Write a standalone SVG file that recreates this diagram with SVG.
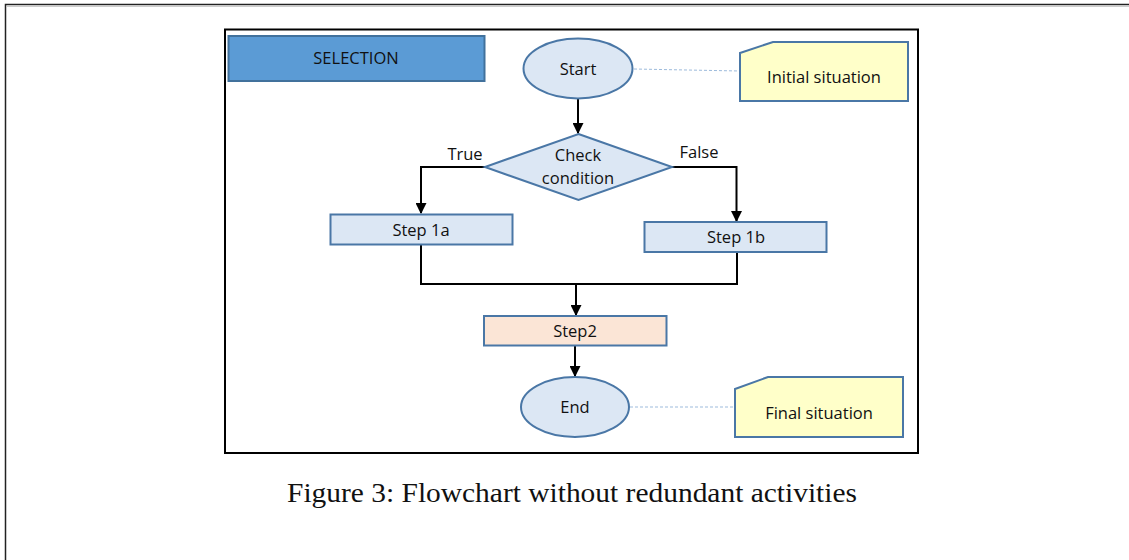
<svg xmlns="http://www.w3.org/2000/svg" width="1129" height="560" viewBox="0 0 1129 560">
  <style>
    .lbl { font-family: "Open Sans", "Liberation Sans", sans-serif; font-size: 16.5px; fill: #111; text-anchor: middle; }
    .node { fill: #dce7f4; stroke: #4a77a6; stroke-width: 2; }
    .note { fill: #ffffc9; stroke: #4a77a6; stroke-width: 2; }
    .flow { fill: none; stroke: #000; stroke-width: 2; }
    .link { fill: none; stroke: #9dbbdc; stroke-width: 1; stroke-dasharray: 3 2; }
    .caption { font-family: "Liberation Serif", serif; font-size: 27px; fill: #111; text-anchor: middle; }
  </style>
  <defs>
    <marker id="arrow" viewBox="0 0 10 10" refX="9" refY="5" markerWidth="5.5" markerHeight="5.5" orient="auto" markerUnits="strokeWidth">
      <path d="M0,0 L10,5 L0,10 z" fill="#000"/>
    </marker>
  </defs>

  <rect width="1129" height="560" fill="#fff"/>
  <!-- page frame -->
  <path d="M5.5,560 V4.5 H1129" fill="none" stroke="#222" stroke-width="1.5"/>
  <path d="M7,6.5 H1129" fill="none" stroke="#ccc" stroke-width="1"/>

  <!-- figure frame -->
  <rect x="225" y="29.5" width="693" height="423.5" fill="#fff" stroke="#000" stroke-width="2"/>

  <g id="title">
    <rect x="228.5" y="36" width="256" height="45" fill="#5b9bd5" stroke="#41719c" stroke-width="2"/>
    <text class="lbl" x="356" y="64">SELECTION</text>
  </g>

  <g id="connectors">
    <path class="link" d="M634,69 L740,71"/>
    <path class="link" d="M630,407 L735,407"/>
    <path class="flow" d="M578,98 V133" marker-end="url(#arrow)"/>
    <path class="flow" d="M485,167 H421 V213" marker-end="url(#arrow)"/>
    <path class="flow" d="M672,167 H736.5 V221" marker-end="url(#arrow)"/>
    <path class="flow" d="M421,245 V284 H737 V252"/>
    <path class="flow" d="M576,284 V315" stroke-width="3" marker-end="url(#arrow)"/>
    <path class="flow" d="M575,346 V376" marker-end="url(#arrow)"/>
    <text class="lbl" x="465" y="160">True</text>
    <text class="lbl" x="699" y="158">False</text>
  </g>

  <g id="start">
    <ellipse class="node" cx="578" cy="68.5" rx="54.5" ry="30"/>
    <text class="lbl" x="578" y="75">Start</text>
  </g>

  <g id="initial-situation">
    <path class="note" d="M740,53 L773,42 H908 V101 H740 Z"/>
    <text class="lbl" x="824" y="83">Initial situation</text>
  </g>

  <g id="check">
    <path class="node" d="M578.5,134 L672,167 L578.5,200 L485,167 Z"/>
    <text class="lbl" x="578" y="161">Check</text>
    <text class="lbl" x="578" y="184">condition</text>
  </g>

  <g id="step1a">
    <rect class="node" x="330.5" y="214.5" width="182" height="30"/>
    <text class="lbl" x="421" y="236">Step 1a</text>
  </g>

  <g id="step1b">
    <rect class="node" x="644.5" y="222" width="182" height="30"/>
    <text class="lbl" x="736" y="243">Step 1b</text>
  </g>

  <g id="step2">
    <rect x="484" y="316" width="182.5" height="29.5" fill="#fbe5d6" stroke="#4a77a6" stroke-width="2"/>
    <text class="lbl" x="575" y="337">Step2</text>
  </g>

  <g id="end">
    <ellipse class="node" cx="575" cy="407" rx="54" ry="30"/>
    <text class="lbl" x="575" y="413">End</text>
  </g>

  <g id="final-situation">
    <path class="note" d="M735,389 L768,377 H903 V437 H735 Z"/>
    <text class="lbl" x="819" y="419">Final situation</text>
  </g>

  <text class="caption" x="572" y="502" textLength="570" lengthAdjust="spacingAndGlyphs">Figure 3: Flowchart without redundant activities</text>
</svg>
